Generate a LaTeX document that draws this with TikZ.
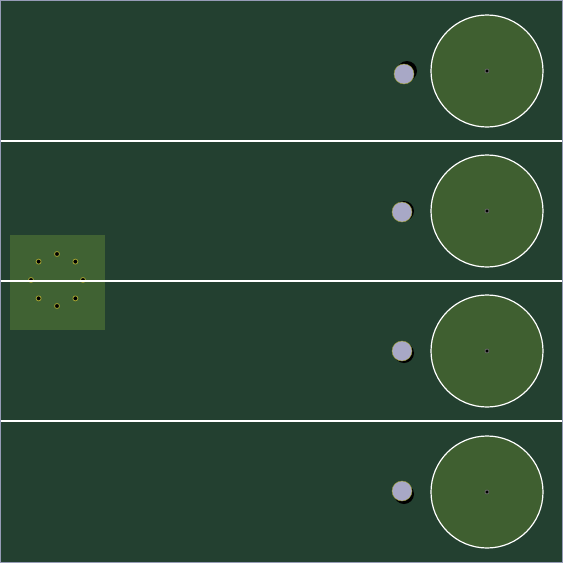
\documentclass[tikz,border=0pt]{standalone}
\usepackage{tikz}
\usetikzlibrary{positioning,calc}
\definecolor{fieldgreen}{RGB}{35,64,48}
\definecolor{padgreen}{RGB}{63,95,48}
\definecolor{zonegreen}{RGB}{70,104,52}
\definecolor{balllav}{RGB}{168,168,198}
\definecolor{rimgray}{RGB}{150,156,182}
\definecolor{dotrim}{RGB}{160,160,50}
\tikzset{
  % lane divider
  divider/.style = {draw=white, line width=1.5pt},
  % target pad
  pad/.style     = {circle, draw=white, line width=1.2pt, fill=padgreen,
                    minimum size=112pt, inner sep=0pt},
  % puck
  puck/.style    = {circle, fill=balllav, draw=dotrim, line width=0.4pt,
                    minimum size=20pt, inner sep=0pt},
  % puck shadow
  shade/.style   = {circle, fill=black, minimum size=20pt, inner sep=0pt},
  % small marker
  marker/.style  = {circle, fill=black, draw=dotrim, line width=0.8pt,
                    minimum size=5pt, inner sep=0pt},
  % start zone
  zone/.style    = {rectangle, fill=zonegreen, fill opacity=0.85,
                    minimum width=95pt, minimum height=95pt, inner sep=0pt},
}
\begin{document}
\begin{tikzpicture}[x=1pt, y=-1pt]

  % field
  \fill[fieldgreen] (0,0) rectangle (563,563);
  \useasboundingbox (0,0) rectangle (563,563);

  % lanes
  \foreach \i/\cy/\bx/\by/\sx/\sy in {1/71/404/74/407/71, 2/211/402/212/404/211,
                                      3/351/402/351/404/353, 4/492/402/491/404/494} {
    \node[pad] (pad\i) at (487,\cy) {};
    \node[marker, draw=black!60, minimum size=4pt] (mid\i) at (pad\i.center) {};
    \node[shade] (shadow\i) at (\sx,\sy) {};
    \node[puck] (puck\i) at (\bx,\by) {};
  }

  % start zone with markers
  \node[zone] (start) at (57.5,282.5) {};
  \foreach \a in {0,45,...,315} {
    \node[marker] (m\a) at ($(57,280)+(\a:26)$) {};
  }

  % dividers
  \foreach \y in {141,281,421} {
    \coordinate (l\y) at (0,\y);
    \coordinate (r\y) at (563,\y);
    \draw[divider] (l\y) -- (r\y);
  }

  % outer rim
  \draw[rimgray, line width=2pt] (0,0) rectangle (563,563);

\end{tikzpicture}
\end{document}
